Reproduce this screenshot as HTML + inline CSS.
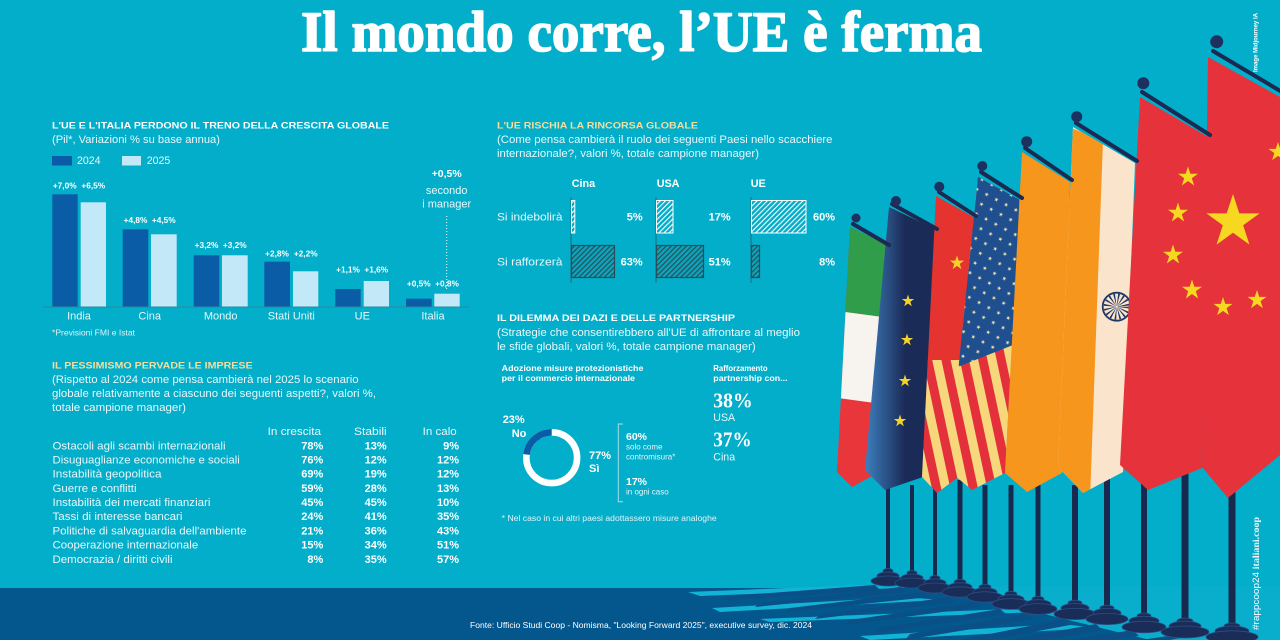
<!DOCTYPE html>
<html><head><meta charset="utf-8"><style>
html,body{margin:0;padding:0;background:#02aeca}
svg{display:block}
text{font-family:"Liberation Sans",Arial,sans-serif;fill:#fff}
.t{font-weight:bold;font-size:9.6px}
.y{fill:#f5dd9e}
.s{font-size:10.6px;fill:#eaf8fb}
.b{font-weight:bold}
.v{font-weight:bold;font-size:8.3px;text-anchor:middle}
.c{font-size:11px;text-anchor:middle;fill:#eaf8fb}
.r{font-size:10.6px;fill:#eaf8fb}
.n{font-weight:bold;font-size:11px;text-anchor:end}
.sm{font-size:8px;fill:#e2f4f8}
.ser{font-family:"Liberation Serif",serif;font-weight:bold}
</style></head><body>
<svg width="1280" height="640" viewBox="0 0 1280 640" xmlns="http://www.w3.org/2000/svg">
<defs>
<polygon id="st" points="0,-1 0.2245,-0.309 0.951,-0.309 0.3633,0.118 0.588,0.809 0,0.382 -0.588,0.809 -0.3633,0.118 -0.951,-0.309 -0.2245,-0.309"/>
<pattern id="hw" width="3.6" height="3.6" patternUnits="userSpaceOnUse" patternTransform="rotate(45)"><rect width="3.6" height="3.6" fill="#02aeca"/><rect width="1.1" height="3.6" fill="#ffffff"/></pattern>
<pattern id="hd" width="3.6" height="3.6" patternUnits="userSpaceOnUse" patternTransform="rotate(45)"><rect width="3.6" height="3.6" fill="#0aa5bd"/><rect width="1.2" height="3.6" fill="#2b4d58"/></pattern>
<pattern id="usS" width="18" height="20" patternUnits="userSpaceOnUse" patternTransform="rotate(-12)"><rect width="18" height="20" fill="#f6d77c"/><rect width="9" height="20" fill="#e3303b"/></pattern>
<pattern id="usStars" width="11" height="11" patternUnits="userSpaceOnUse" patternTransform="rotate(28)"><rect width="11" height="11" fill="#1f4f8f"/><use href="#st" transform="translate(5.5,5.5) scale(2.3)" fill="#f3e6a8"/></pattern>
<linearGradient id="eu" gradientUnits="userSpaceOnUse" x1="866" y1="0" x2="905" y2="0"><stop offset="0" stop-color="#3c7dbc"/><stop offset="1" stop-color="#1b2b57"/></linearGradient>
<clipPath id="cIt"><polygon points="850,227 887,245 872,476 852,487 837,472"/></clipPath>
<clipPath id="cCs"><polygon points="936,196 975,218 957,478 937,493 922,477"/></clipPath>
<clipPath id="cUs"><polygon points="978,177 1020,200 1005,473 972,490 948,470"/></clipPath>
<clipPath id="cIn"><polygon points="1073,127 1135,163 1123,472 1083,493 1058,467"/></clipPath>
<clipPath id="cCb"><polygon points="1208,57 1280,97 1280,455 1228,498 1202,467"/></clipPath>
</defs>

<rect width="1280" height="640" fill="#02aeca"/>

<!-- ground -->
<rect x="0" y="588" width="1280" height="52" fill="#03578d"/>
<polygon points="930,586 1280,586 1280,640 1150,640" fill="#0aaecd"/>
<polygon points="688,592 860,585 900,588 700,596" fill="#12b4d6"/>
<polygon points="712,608 905,597 940,600 720,612" fill="#12b4d6"/>
<polygon points="760,619 1010,609 1040,612 770,622" fill="#12b4d6"/>
<polygon points="860,636 1060,624 1100,628 870,640" fill="#12b4d6"/>
<g fill="#0a4f85">
<polygon points="875,585 730,596 725,600 880,590"/>
<polygon points="901,587 760,603 755,607 906,592"/>
<polygon points="924,592 790,608 785,612 930,597"/>
<polygon points="950,597 820,615 815,619 955,602"/>
<polygon points="975,602 850,620 845,625 980,607"/>
<polygon points="1000,609 880,628 875,633 1006,614"/>
<polygon points="1027,614 910,634 905,640 1033,619"/>
<polygon points="1064,619 960,640 990,640 1070,625"/>
<polygon points="1096,624 1010,640 1045,640 1102,630"/>
<polygon points="1133,630 1070,640 1110,640 1139,636"/>
<polygon points="1175,635 1140,640 1170,640 1180,638"/>
</g>

<!-- poles and bases -->
<g fill="#17294f">
<rect x="886" y="480" width="4" height="90"/>
<rect x="910" y="485" width="4" height="87"/>
<rect x="933" y="488" width="4" height="88"/>
<rect x="957.5" y="480" width="5" height="101"/>
<rect x="982.5" y="485" width="5" height="101"/>
<rect x="1008.5" y="485" width="5" height="108"/>
<rect x="1035.5" y="480" width="5" height="118"/>
<rect x="1072" y="485" width="6" height="118"/>
<rect x="1104" y="470" width="6" height="138"/>
<rect x="1141" y="480" width="6" height="136"/>
<rect x="1181.5" y="465" width="7" height="156"/>
<rect x="1228.5" y="490" width="7" height="136"/>
</g>
<g fill="#1a2c58" stroke="#2b4f86" stroke-width="0.8">
<ellipse cx="888" cy="571" rx="5" ry="2.5"/><ellipse cx="888" cy="576" rx="11" ry="4"/><ellipse cx="888" cy="581" rx="17" ry="5"/>
<ellipse cx="912" cy="573" rx="5" ry="2.5"/><ellipse cx="912" cy="578" rx="11" ry="4"/><ellipse cx="912" cy="583" rx="17" ry="5"/>
<ellipse cx="935" cy="578" rx="5" ry="2.5"/><ellipse cx="935" cy="583" rx="11" ry="4"/><ellipse cx="935" cy="588" rx="17" ry="5"/>
<ellipse cx="960" cy="582" rx="6" ry="2.6"/><ellipse cx="960" cy="587" rx="12" ry="4.2"/><ellipse cx="960" cy="592" rx="18" ry="5.2"/>
<ellipse cx="985" cy="587" rx="6" ry="2.6"/><ellipse cx="985" cy="592" rx="12" ry="4.2"/><ellipse cx="985" cy="597" rx="18" ry="5.2"/>
<ellipse cx="1011" cy="594" rx="6" ry="2.7"/><ellipse cx="1011" cy="599" rx="13" ry="4.3"/><ellipse cx="1011" cy="604" rx="19" ry="5.4"/>
<ellipse cx="1038" cy="599" rx="6" ry="2.7"/><ellipse cx="1038" cy="604" rx="13" ry="4.3"/><ellipse cx="1038" cy="609" rx="19" ry="5.4"/>
<ellipse cx="1075" cy="603" rx="7" ry="2.8"/><ellipse cx="1075" cy="608" rx="14" ry="4.5"/><ellipse cx="1075" cy="614" rx="21" ry="5.6"/>
<ellipse cx="1107" cy="608" rx="7" ry="2.8"/><ellipse cx="1107" cy="613" rx="14" ry="4.5"/><ellipse cx="1107" cy="619" rx="21" ry="5.6"/>
<ellipse cx="1144" cy="616" rx="7" ry="3"/><ellipse cx="1144" cy="621" rx="15" ry="4.7"/><ellipse cx="1144" cy="627" rx="22" ry="5.8"/>
<ellipse cx="1185" cy="621" rx="8" ry="3"/><ellipse cx="1185" cy="626" rx="16" ry="4.8"/><ellipse cx="1185" cy="632" rx="24" ry="6"/>
<ellipse cx="1232" cy="626" rx="8" ry="3"/><ellipse cx="1232" cy="631" rx="17" ry="5"/><ellipse cx="1232" cy="637" rx="26" ry="6.2"/>
</g>

<!-- flags -->
<g clip-path="url(#cIt)">
<rect x="830" y="220" width="60" height="275" fill="#e8363a"/>
<polygon points="830,220 890,220 890,318 830,310" fill="#2f9d4a"/>
<polygon points="830,310 890,318 890,405 830,397" fill="#f7f4ef"/>
</g>
<polygon points="889,207 935,229 923,477 885,490 865,470" fill="url(#eu)"/>
<g fill="#f4d22a">
<use href="#st" transform="translate(908,301) scale(6.5)"/>
<use href="#st" transform="translate(907,340) scale(6.5)"/>
<use href="#st" transform="translate(905,381) scale(6.5)"/>
<use href="#st" transform="translate(900,421) scale(6.5)"/>
</g>
<g clip-path="url(#cCs)">
<rect x="915" y="190" width="65" height="310" fill="#e5332f"/>
<rect x="915" y="360" width="65" height="140" fill="url(#usS)"/>
<use href="#st" transform="translate(957,263) scale(7.5)" fill="#f4d22a"/>
</g>
<g clip-path="url(#cUs)">
<rect x="940" y="170" width="85" height="325" fill="url(#usS)"/>
<polygon points="970,170 1025,195 1013,345 955,368" fill="url(#usStars)"/>
</g>
<polygon points="1022,152 1070,182 1062,473 1027,492 1005,473" fill="#f6961d"/>
<g clip-path="url(#cIn)">
<rect x="1050" y="120" width="90" height="380" fill="#fbe4cc"/>
<polygon points="1050,120 1103,140 1090,500 1050,500" fill="#f6961d"/>
<circle cx="1116.7" cy="306.7" r="14" fill="none" stroke="#1d3766" stroke-width="1.8"/>
<circle cx="1116.7" cy="306.7" r="7" fill="none" stroke="#1d3766" stroke-width="12" stroke-dasharray="1 1.8"/>
</g>
<polygon points="1140,97 1208,137 1202,468 1148,490 1120,465" fill="#e6323a"/>
<g fill="#f6d820">
<use href="#st" transform="translate(1188,177) scale(10.5)"/>
<use href="#st" transform="translate(1178,213) scale(10.5)"/>
<use href="#st" transform="translate(1173,255) scale(10.5)"/>
<use href="#st" transform="translate(1192,290) scale(10.5)"/>
</g>
<g clip-path="url(#cCb)">
<rect x="1200" y="50" width="80" height="450" fill="#e6323a"/>
<g fill="#f6d820">
<use href="#st" transform="translate(1233,222) scale(28)"/>
<use href="#st" transform="translate(1278,152) scale(10)"/>
<use href="#st" transform="translate(1223,307) scale(10)"/>
<use href="#st" transform="translate(1257,300) scale(10)"/>
</g>
</g>
<!-- top bars -->
<g stroke="#1b2a52" stroke-width="4" stroke-linecap="round">
<line x1="853" y1="224" x2="889" y2="245"/>
<line x1="892" y1="204" x2="937" y2="229"/>
<line x1="939" y1="192" x2="976" y2="216"/>
<line x1="981" y1="172" x2="1022" y2="198"/>
<line x1="1025" y1="148" x2="1072" y2="180"/>
<line x1="1076" y1="123" x2="1137" y2="161"/>
<line x1="1142" y1="92" x2="1210" y2="135"/>
<line x1="1213" y1="51" x2="1282" y2="92"/>
</g>
<g fill="#1c3160">
<circle cx="856" cy="218" r="4.5"/>
<circle cx="896" cy="201" r="5"/>
<circle cx="939.3" cy="186.7" r="5"/>
<circle cx="982.3" cy="166" r="5"/>
<circle cx="1026.7" cy="141.7" r="5.5"/>
<circle cx="1076.7" cy="116.7" r="5.5"/>
<circle cx="1143.3" cy="83.3" r="6"/>
<circle cx="1216.7" cy="41.7" r="6.5"/>
</g>

<!-- title -->
<text x="301" y="51" class="ser" font-size="57" textLength="681" lengthAdjust="spacingAndGlyphs" stroke="#fff" stroke-width="1.6" stroke-linejoin="round">Il mondo corre, l’UE è ferma</text>

<!-- chart 1 -->
<text x="52" y="128.5" class="t" textLength="337" lengthAdjust="spacingAndGlyphs">L'UE E L'ITALIA PERDONO IL TRENO DELLA CRESCITA GLOBALE</text>
<text x="52" y="143" class="s" textLength="168" lengthAdjust="spacingAndGlyphs">(Pil*, Variazioni % su base annua)</text>
<rect x="52" y="156" width="20" height="9.5" fill="#0a5ca6"/>
<text x="77" y="164.2" class="s">2024</text>
<rect x="122" y="156" width="19" height="9.5" fill="#c3e9f8"/>
<text x="146.7" y="164.2" class="s">2025</text>

<g fill="#0a5ca6">
<rect x="52.3" y="194.3" width="25.4" height="112.4"/>
<rect x="122.7" y="229.3" width="25.6" height="77.4"/>
<rect x="193.7" y="255.3" width="25.6" height="51.4"/>
<rect x="264.3" y="261.7" width="25.7" height="45"/>
<rect x="335.3" y="289" width="25.4" height="17.7"/>
<rect x="406" y="298.7" width="25.7" height="8"/>
</g>
<g fill="#c3e9f8">
<rect x="80.7" y="202.3" width="25.3" height="104.4"/>
<rect x="151" y="234.3" width="25.7" height="72.4"/>
<rect x="222" y="255.3" width="25.7" height="51.4"/>
<rect x="293" y="271.3" width="25.3" height="35.4"/>
<rect x="363.7" y="281" width="25.3" height="25.7"/>
<rect x="434.3" y="293.7" width="25.4" height="13"/>
</g>
<line x1="43" y1="307" x2="469" y2="307" stroke="#2a8aa0" stroke-width="1"/>
<text x="64.7" y="188.5" class="v">+7,0%</text><text x="93.3" y="188.5" class="v">+6,5%</text>
<text x="135.5" y="223" class="v">+4,8%</text><text x="163.8" y="223" class="v">+4,5%</text>
<text x="206.5" y="248" class="v">+3,2%</text><text x="234.8" y="248" class="v">+3,2%</text>
<text x="277" y="256.5" class="v">+2,8%</text><text x="305.7" y="256.5" class="v">+2,2%</text>
<text x="348" y="272.5" class="v">+1,1%</text><text x="376.3" y="272.5" class="v">+1,6%</text>
<text x="418.8" y="286.5" class="v">+0,5%</text><text x="447" y="286.5" class="v">+0,8%</text>
<text x="79" y="319.5" class="c">India</text>
<text x="149.7" y="319.5" class="c">Cina</text>
<text x="220.7" y="319.5" class="c">Mondo</text>
<text x="291.3" y="319.5" class="c">Stati Uniti</text>
<text x="362.3" y="319.5" class="c">UE</text>
<text x="433" y="319.5" class="c">Italia</text>
<text x="446.7" y="177" class="b" font-size="10.5" text-anchor="middle">+0,5%</text>
<text x="446.7" y="194" class="c" font-size="10.5">secondo</text>
<text x="446.7" y="207.5" class="c" font-size="10.5">i manager</text>
<line x1="446.7" y1="216" x2="446.7" y2="290" stroke="#fff" stroke-width="1" stroke-dasharray="1 2"/>
<text x="52" y="335.5" class="sm" textLength="83" lengthAdjust="spacingAndGlyphs">*Previsioni FMI e Istat</text>

<!-- table -->
<text x="52" y="368.5" class="t y" textLength="200.6" lengthAdjust="spacingAndGlyphs">IL PESSIMISMO PERVADE LE IMPRESE</text>
<text x="52" y="383" class="s" textLength="306.6" lengthAdjust="spacingAndGlyphs">(Rispetto al 2024 come pensa cambierà nel 2025 lo scenario</text>
<text x="52" y="397" class="s" textLength="324" lengthAdjust="spacingAndGlyphs">globale relativamente a ciascuno dei seguenti aspetti?, valori %,</text>
<text x="52" y="411" class="s" textLength="134" lengthAdjust="spacingAndGlyphs">totale campione manager)</text>
<text x="267.7" y="434.8" class="r" textLength="53.3" lengthAdjust="spacingAndGlyphs">In crescita</text>
<text x="354" y="434.8" class="r" textLength="32.7" lengthAdjust="spacingAndGlyphs">Stabili</text>
<text x="422.7" y="434.8" class="r" textLength="34" lengthAdjust="spacingAndGlyphs">In calo</text>
<g>
<text x="52.5" y="449.5" class="r" textLength="173" lengthAdjust="spacingAndGlyphs">Ostacoli agli scambi internazionali</text>
<text x="52.5" y="463.5" class="r" textLength="187.3" lengthAdjust="spacingAndGlyphs">Disuguaglianze economiche e sociali</text>
<text x="52.5" y="477.6" class="r" textLength="109" lengthAdjust="spacingAndGlyphs">Instabilità geopolitica</text>
<text x="52.5" y="491.8" class="r" textLength="84" lengthAdjust="spacingAndGlyphs">Guerre e conflitti</text>
<text x="52.5" y="506" class="r" textLength="158" lengthAdjust="spacingAndGlyphs">Instabilità dei mercati finanziari</text>
<text x="52.5" y="520.2" class="r" textLength="130" lengthAdjust="spacingAndGlyphs">Tassi di interesse bancari</text>
<text x="52.5" y="534.4" class="r" textLength="194" lengthAdjust="spacingAndGlyphs">Politiche di salvaguardia dell'ambiente</text>
<text x="52.5" y="548.6" class="r" textLength="145.7" lengthAdjust="spacingAndGlyphs">Cooperazione internazionale</text>
<text x="52.5" y="562.8" class="r" textLength="120" lengthAdjust="spacingAndGlyphs">Democrazia / diritti civili</text>
</g>
<g>
<text x="323.3" y="449.5" class="n">78%</text><text x="386.7" y="449.5" class="n">13%</text><text x="459" y="449.5" class="n">9%</text>
<text x="323.3" y="463.5" class="n">76%</text><text x="386.7" y="463.5" class="n">12%</text><text x="459" y="463.5" class="n">12%</text>
<text x="323.3" y="477.6" class="n">69%</text><text x="386.7" y="477.6" class="n">19%</text><text x="459" y="477.6" class="n">12%</text>
<text x="323.3" y="491.8" class="n">59%</text><text x="386.7" y="491.8" class="n">28%</text><text x="459" y="491.8" class="n">13%</text>
<text x="323.3" y="506" class="n">45%</text><text x="386.7" y="506" class="n">45%</text><text x="459" y="506" class="n">10%</text>
<text x="323.3" y="520.2" class="n">24%</text><text x="386.7" y="520.2" class="n">41%</text><text x="459" y="520.2" class="n">35%</text>
<text x="323.3" y="534.4" class="n">21%</text><text x="386.7" y="534.4" class="n">36%</text><text x="459" y="534.4" class="n">43%</text>
<text x="323.3" y="548.6" class="n">15%</text><text x="386.7" y="548.6" class="n">34%</text><text x="459" y="548.6" class="n">51%</text>
<text x="323.3" y="562.8" class="n">8%</text><text x="386.7" y="562.8" class="n">35%</text><text x="459" y="562.8" class="n">57%</text>
</g>

<!-- chart 2 -->
<text x="497" y="128.5" class="t y" textLength="201" lengthAdjust="spacingAndGlyphs">L'UE RISCHIA LA RINCORSA GLOBALE</text>
<text x="497" y="143" class="s" textLength="335.5" lengthAdjust="spacingAndGlyphs">(Come pensa cambierà il ruolo dei seguenti Paesi nello scacchiere</text>
<text x="497" y="157" class="s" textLength="262" lengthAdjust="spacingAndGlyphs">internazionale?, valori %, totale campione manager)</text>
<text x="571.7" y="187" class="b" font-size="10.8">Cina</text>
<text x="656.7" y="187" class="b" font-size="10.8">USA</text>
<text x="750.7" y="187" class="b" font-size="10.8">UE</text>
<text x="497" y="220.5" class="r" textLength="65.5" lengthAdjust="spacingAndGlyphs">Si indebolirà</text>
<text x="497" y="265.5" class="r" textLength="65.5" lengthAdjust="spacingAndGlyphs">Si rafforzerà</text>
<g stroke="#1b6d80" stroke-width="1">
<line x1="571" y1="197" x2="571" y2="283"/>
<line x1="656" y1="197" x2="656" y2="283"/>
<line x1="751" y1="197" x2="751" y2="283"/>
</g>
<g fill="url(#hw)" stroke="#fff" stroke-width="1">
<rect x="571.5" y="200.5" width="3.3" height="32.5"/>
<rect x="656.5" y="200.5" width="16.5" height="32.5"/>
<rect x="751.5" y="200.5" width="54.5" height="32.5"/>
</g>
<g fill="url(#hd)" stroke="#2b4d58" stroke-width="1.2">
<rect x="571.5" y="245.5" width="43" height="32"/>
<rect x="656.5" y="245.5" width="47" height="32"/>
<rect x="751.5" y="245.5" width="8" height="32"/>
</g>
<text x="642.7" y="220.5" class="n">5%</text><text x="730.7" y="220.5" class="n">17%</text><text x="835" y="220.5" class="n">60%</text>
<text x="642.7" y="265.5" class="n">63%</text><text x="730.7" y="265.5" class="n">51%</text><text x="835" y="265.5" class="n">8%</text>

<!-- section 4 -->
<text x="497" y="320.8" class="t" textLength="238" lengthAdjust="spacingAndGlyphs">IL DILEMMA DEI DAZI E DELLE PARTNERSHIP</text>
<text x="497" y="336.2" class="s" textLength="303" lengthAdjust="spacingAndGlyphs">(Strategie che consentirebbero all'UE di affrontare al meglio</text>
<text x="497" y="350.2" class="s" textLength="258.7" lengthAdjust="spacingAndGlyphs">le sfide globali, valori %, totale campione manager)</text>
<text x="501.7" y="371.2" class="b" font-size="8.3" textLength="141.7" lengthAdjust="spacingAndGlyphs">Adozione misure protezionistiche</text>
<text x="501.7" y="381.2" class="b" font-size="8.3" textLength="133.3" lengthAdjust="spacingAndGlyphs">per il commercio internazionale</text>
<text x="713.3" y="371.2" class="b" font-size="8.3" textLength="54.3" lengthAdjust="spacingAndGlyphs">Rafforzamento</text>
<text x="713.3" y="381.2" class="b" font-size="8.3" textLength="74.3" lengthAdjust="spacingAndGlyphs">partnership con...</text>
<text x="713.3" y="407.3" class="ser" font-size="21" textLength="39.3" lengthAdjust="spacingAndGlyphs" fill="#eaf8fb">38%</text>
<text x="713.3" y="421" class="r" font-size="11">USA</text>
<text x="713.3" y="446.7" class="ser" font-size="21" textLength="38.3" lengthAdjust="spacingAndGlyphs" fill="#eaf8fb">37%</text>
<text x="713.3" y="460.5" class="r" font-size="11">Cina</text>

<circle cx="551.7" cy="457.7" r="25.4" fill="none" stroke="#fff" stroke-width="6.6"/>
<path d="M551.7,432.3 A25.4,25.4 0 0 0 526.5,454.5" fill="none" stroke="#0a5ca6" stroke-width="6.6"/>
<text x="502.7" y="422.8" class="b" font-size="11">23%</text>
<text x="511.7" y="437" class="b" font-size="11">No</text>
<text x="589" y="458.8" class="b" font-size="11">77%</text>
<text x="589" y="472" class="b" font-size="11">Sì</text>
<path d="M623,424 H618.3 V501.7 H623" fill="none" stroke="#a8dde6" stroke-width="1"/>
<text x="626" y="439.8" class="b" font-size="10.5">60%</text>
<text x="626" y="449.5" class="sm">solo come</text>
<text x="626" y="459.5" class="sm">contromisura*</text>
<text x="626" y="484.8" class="b" font-size="10.5">17%</text>
<text x="626" y="494.5" class="sm">in ogni caso</text>
<text x="501.7" y="521" class="sm" textLength="215" lengthAdjust="spacingAndGlyphs">* Nel caso in cui altri paesi adottassero misure analoghe</text>

<!-- footer -->
<text x="470" y="628" font-size="8" fill="#e8f4f8" textLength="342" lengthAdjust="spacingAndGlyphs">Fonte: Ufficio Studi Coop - Nomisma, "Looking Forward 2025", executive survey, dic. 2024</text>

<!-- vertical credits -->
<text transform="translate(1257.5,72) rotate(-90)" font-size="6.5" font-weight="bold" fill="#dff3f7" textLength="59" lengthAdjust="spacingAndGlyphs">Image Midjourney IA</text>
<text transform="translate(1259,630) rotate(-90)" font-size="9.5" fill="#d8f0f5" textLength="113" lengthAdjust="spacingAndGlyphs">#rappcoop24 <tspan class="ser" fill="#f2fafc">italiani.coop</tspan></text>
</svg>
</body></html>
